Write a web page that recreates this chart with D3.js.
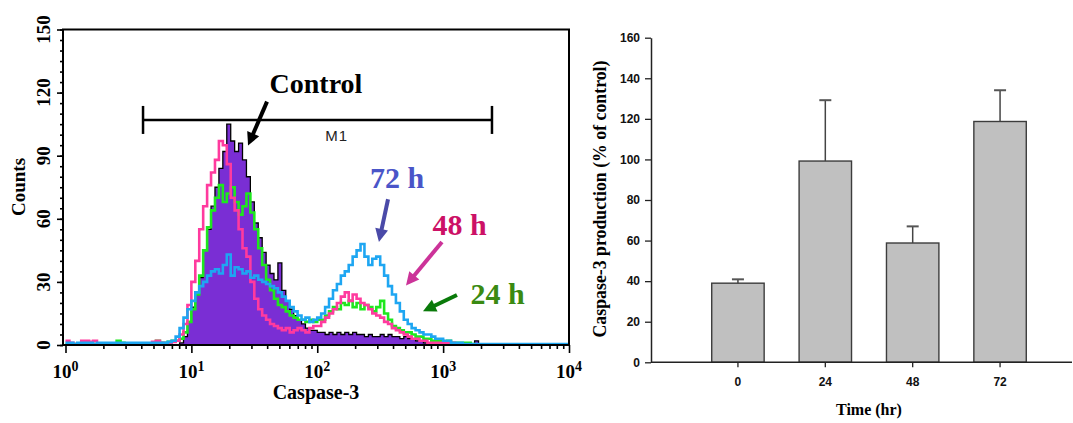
<!DOCTYPE html>
<html>
<head>
<meta charset="utf-8">
<script src="https://cdn.jsdelivr.net/npm/d3@7"></script>
<style>
  body { margin: 0; background: #fff; }
  svg { display: block; }
</style>
</head>
<body>
<svg id="chart" width="1073" height="423"></svg>
<script>
// ---------- Flow cytometry histograms: counts per channel, 32 channels per decade (10^0 .. 10^4) ----------
const channelsPerDecade = 32;

const controlCounts = [
  0,0,0,0,0,0,0,0,0,0,0,0,0,0,0,0,
  0,0,0,0,0,0,0,0,0,0,0,0,0,1,4,11,
  18,24,32,45,55,66,75,84,92,105,97,92,96,88,80,68,
  58,51,44,38,34,31,39,26,21,17,14,12,10,8,7,7,
  6,6,5,6,5,6,5,6,5,6,5,5,4,5,4,4,
  5,4,5,4,4,3,4,3,3,2,2,1,1,1,0.5,0,
  0,0,0,0,0,0,0,0,2,0,0,0,0,0,0,0,
  0,0,0,0,0,0,0,0,0,0,0,0,0,0,0,0
];

const counts24h = [
  0.5,0.5,0.5,0.5,0.5,0.5,0.5,0.5,0.5,0.5,0.5,0.5,0.5,2,1,0.5,
  0.5,0.5,0.5,0.5,0.5,0.5,0.5,2,1,1,1.5,2,2,3,6,11,
  17,24,33,45,56,64,70,76,68,72,75,68,62,66,72,63,
  55,46,38,31,26,22,19,18,16,14,13,12,12,11,12,11,
  12,12,14,16,18,17,20,19,21,18,20,17,19,18,16,18,
  21,15,12,9,8,7,6,6,5,4,4,3,3,2,2,2,
  1,2,1,1,1,1,1,0.5,0,0,0,0,0,0,0,0,
  0,0,0,0,0,0,0,0,0,0,0,0,0,0,0,0
];

const counts48h = [
  2,1,0.5,0.5,2,2,1.5,2,0.5,0.5,0.5,0.5,0.5,0.5,0.5,0.5,
  0.5,0.5,0.5,0.5,0.5,0.5,1.5,2,1,0.5,1,1.5,2,5,10,19,
  30,40,55,66,76,82,88,97,95,86,70,64,55,46,42,30,
  22,17,14,12,10,9,8,7,8,6,7,8,7,6,8,9,
  9,11,13,15,17,20,23,25,21,24,22,20,19,17,15,14,
  13,11,10,8,7,6,5,4,3,3,2,2,1,1,1,1,
  1,1,1,0.5,0,0,0,0,0,0,0,0,0,0,0,0,
  0,0,0,0,0,0,0,0,0,0,0,0,0,0,0,0
];

const counts72h = [
  1,1,0.5,1,1,1,1,0.5,1,1,1,1,1,1,1,1,
  1,1,1,1,1,1,1,1,1,1,1.5,2,4,8,13,17,
  21,25,28,30,33,35,36,34,38,43,33,37,36,34,35,32,
  33,31,30,29,28,27,25,23,21,18,16,14,12,13,11,12,
  13,15,18,22,26,29,33,35,38,42,45,48,42,38,41,42,
  38,33,28,24,20,16,12,10,8,7,6,5,5,4,3,3,
  2,2,1,1,1,0.5,0.5,0.5,0.5,0.5,0.5,0.5,0.5,0.5,0.5,0.5,
  0.5,0.5,0.5,0.5,0.5,0.5,0.5,0.5,0.5,0.5,0.5,0.5,0.5,0.5,0.5,0.5
];

const countTicks = [0, 30, 60, 90, 120, 150];
const decadeTicks = [1, 10, 100, 1000, 10000];

// Gate marker and annotations in data units (fluorescence, counts)
const gateM1 = { from: 4.13, to: 2444, count: 107, label: "M1" };
const annotations = [
  { text: "Control", x: 97.7, y: 120,  color: "#000000", size: 28, arrowColor: "#000000", from: [39.9, 115.7], to: [28.2, 94.8] },
  { text: "72 h",    x: 430,  y: 74.8, color: "#4a55c8", size: 30, arrowColor: "#4a4aa8", from: [365, 69.3],  to: [309, 49.0] },
  { text: "48 h",    x: 1349, y: 52.4, color: "#cc1166", size: 30, arrowColor: "#cc3399", from: [979, 49.0],  to: [507, 28.3] },
  { text: "24 h",    x: 2704, y: 19.5, color: "#3a8a12", size: 30, arrowColor: "#0a7a0a", from: [1288, 23.8], to: [692, 16.0] }
];

// ---------- Caspase-3 production bar chart ----------
const times = ["0", "24", "48", "72"];
const production = [39.0, 99.2, 58.8, 118.7];
const productionSE = [1.9, 30.0, 8.2, 15.4];
const percentTicks = [0, 20, 40, 60, 80, 100, 120, 140, 160];

const SERIF = "'Liberation Serif','Times New Roman',serif";
const SANS = "'Liberation Sans',Arial,sans-serif";

const svg = d3.select("#chart");

/* ===================== Left panel: histogram overlay ===================== */
const frame = { left: 63, right: 569, top: 29.5, bottom: 345 };
const hx = d3.scaleLog().domain([1, 1e4]).range([65.5, 569]);
const hy = d3.scaleLinear().domain([0, 150]).range([345, 29.5]);

svg.append("clipPath").attr("id", "histClip")
  .append("rect")
  .attr("x", frame.left).attr("y", frame.top - 2)
  .attr("width", frame.right - frame.left).attr("height", frame.bottom - frame.top + 2);

const toSteps = arr => {
  const pts = arr.map((v, i) => [Math.pow(10, i / channelsPerDecade), v]);
  pts.push([1e4, arr[arr.length - 1]]);
  return pts;
};

const stepLine = d3.line().x(d => hx(d[0])).y(d => hy(d[1])).curve(d3.curveStepAfter);
const stepArea = d3.area().x(d => hx(d[0])).y0(hy(0)).y1(d => hy(d[1])).curve(d3.curveStepAfter);

const plot = svg.append("g").attr("clip-path", "url(#histClip)");

// Control: filled histogram with dark outline
plot.append("path").attr("d", stepArea(toSteps(controlCounts)))
  .attr("fill", "#7a2ed4");
plot.append("path").attr("d", stepLine(toSteps(controlCounts)))
  .attr("fill", "none").attr("stroke", "#000").attr("stroke-width", 1.3);

// Treated samples: open step outlines
[
  { data: counts24h, color: "#1ee81e" },
  { data: counts48h, color: "#ff3a9e" },
  { data: counts72h, color: "#1ea6f2" }
].forEach(s => {
  plot.append("path").attr("d", stepLine(toSteps(s.data)))
    .attr("fill", "none").attr("stroke", s.color)
    .attr("stroke-width", 2.6).attr("stroke-linejoin", "miter");
});

// Frame
svg.append("rect")
  .attr("x", frame.left).attr("y", frame.top)
  .attr("width", frame.right - frame.left).attr("height", frame.bottom - frame.top)
  .attr("fill", "none").attr("stroke", "#000").attr("stroke-width", 2);

// Y axis: major and minor ticks
const yMinor = d3.range(0, 151, 5);
const yAxisMinor = svg.append("g").attr("transform", `translate(${frame.left},0)`)
  .call(d3.axisLeft(hy).tickValues(yMinor).tickSize(3).tickFormat(""));
const yAxisMajor = svg.append("g").attr("transform", `translate(${frame.left},0)`)
  .call(d3.axisLeft(hy).tickValues(countTicks).tickSize(6).tickFormat(""));
[yAxisMinor, yAxisMajor].forEach(g => {
  g.select(".domain").remove();
  g.selectAll(".tick line").attr("stroke", "#000").attr("stroke-width", 1.6);
});

svg.append("g").selectAll("text").data(countTicks).join("text")
  .attr("transform", d => `translate(50,${hy(d)}) rotate(-90)`)
  .attr("text-anchor", "middle")
  .attr("font-family", SERIF).attr("font-weight", "bold").attr("font-size", 19)
  .attr("fill", "#000")
  .text(d => d);

svg.append("text")
  .attr("transform", "translate(25,187) rotate(-90)")
  .attr("text-anchor", "middle")
  .attr("font-family", SERIF).attr("font-weight", "bold").attr("font-size", 19)
  .text("Counts");

// X axis: logarithmic decades with minor ticks
const xMinor = [];
decadeTicks.slice(0, -1).forEach(d => { for (let k = 2; k <= 9; k++) xMinor.push(d * k); });
const xAxisMinor = svg.append("g").attr("transform", `translate(0,${frame.bottom})`)
  .call(d3.axisBottom(hx).tickValues(xMinor).tickSize(4).tickFormat(""));
const xAxisMajor = svg.append("g").attr("transform", `translate(0,${frame.bottom})`)
  .call(d3.axisBottom(hx).tickValues(decadeTicks).tickSize(8).tickFormat(""));
[xAxisMinor, xAxisMajor].forEach(g => {
  g.select(".domain").remove();
  g.selectAll(".tick line").attr("stroke", "#000").attr("stroke-width", 1.6);
});

const xLabels = svg.append("g").selectAll("text").data(decadeTicks).join("text")
  .attr("x", d => hx(d)).attr("y", 378)
  .attr("text-anchor", "middle")
  .attr("font-family", SERIF).attr("font-weight", "bold").attr("font-size", 19)
  .attr("fill", "#000");
xLabels.append("tspan").text("10");
xLabels.append("tspan").attr("dy", "-0.5em").attr("font-size", 14)
  .text(d => Math.round(Math.log10(d)));

svg.append("text")
  .attr("x", (frame.left + frame.right) / 2).attr("y", 399)
  .attr("text-anchor", "middle")
  .attr("font-family", SERIF).attr("font-weight", "bold").attr("font-size", 20)
  .text("Caspase-3");

// M1 gate marker
const gy = hy(gateM1.count);
const gate = svg.append("g").attr("stroke", "#000").attr("stroke-width", 2.5);
gate.append("line").attr("x1", hx(gateM1.from)).attr("x2", hx(gateM1.to)).attr("y1", gy).attr("y2", gy);
gate.append("line").attr("x1", hx(gateM1.from)).attr("x2", hx(gateM1.from)).attr("y1", gy - 14).attr("y2", gy + 14);
gate.append("line").attr("x1", hx(gateM1.to)).attr("x2", hx(gateM1.to)).attr("y1", gy - 14).attr("y2", gy + 14);
svg.append("text")
  .attr("x", hx(gateM1.from) + (hx(gateM1.to) - hx(gateM1.from)) * 0.555)
  .attr("y", gy + 21)
  .attr("text-anchor", "middle")
  .attr("font-family", SANS).attr("font-size", 15).attr("letter-spacing", 1)
  .attr("fill", "#222")
  .text(gateM1.label);

// Annotation labels and arrows
function arrow(g, p0, p1, color, width, headLen, headHalf) {
  const dx = p1[0] - p0[0], dy = p1[1] - p0[1];
  const len = Math.hypot(dx, dy);
  const ux = dx / len, uy = dy / len;
  const bx = p1[0] - ux * headLen, by = p1[1] - uy * headLen;
  g.append("line")
    .attr("x1", p0[0]).attr("y1", p0[1]).attr("x2", bx + ux * 2).attr("y2", by + uy * 2)
    .attr("stroke", color).attr("stroke-width", width);
  g.append("polygon")
    .attr("points", [
      [p1[0], p1[1]],
      [bx - uy * headHalf, by + ux * headHalf],
      [bx + uy * headHalf, by - ux * headHalf]
    ].map(p => p.join(",")).join(" "))
    .attr("fill", color);
}

const ann = svg.append("g");
annotations.forEach(a => {
  ann.append("text")
    .attr("x", hx(a.x)).attr("y", hy(a.y))
    .attr("text-anchor", "middle")
    .attr("font-family", SERIF).attr("font-weight", "bold").attr("font-size", a.size)
    .attr("fill", a.color)
    .text(a.text);
  arrow(ann,
    [hx(a.from[0]), hy(a.from[1])],
    [hx(a.to[0]), hy(a.to[1])],
    a.arrowColor, 4, 13, 6.5);
});

/* ===================== Right panel: bar chart ===================== */
const bx = d3.scaleBand().domain(times).range([694.25, 1043.75]).paddingInner(0.4).paddingOuter(0.2);
const by = d3.scaleLinear().domain([0, 160]).range([362.3, 37.7]);
const axisRight = 1072;

// Bars
svg.append("g").selectAll("rect").data(times).join("rect")
  .attr("x", d => bx(d)).attr("width", bx.bandwidth())
  .attr("y", (d, i) => by(production[i]))
  .attr("height", (d, i) => by(0) - by(production[i]))
  .attr("fill", "#c0c0c0").attr("stroke", "#3c3c3c").attr("stroke-width", 1.4);

// Error bars (upper)
const err = svg.append("g");
times.forEach((t, i) => {
  const cx = bx(t) + bx.bandwidth() / 2;
  err.append("line").attr("x1", cx).attr("x2", cx)
    .attr("y1", by(production[i])).attr("y2", by(production[i] + productionSE[i]))
    .attr("stroke", "#444").attr("stroke-width", 1.5);
  err.append("line").attr("x1", cx - 6).attr("x2", cx + 6)
    .attr("y1", by(production[i] + productionSE[i])).attr("y2", by(production[i] + productionSE[i]))
    .attr("stroke", "#555").attr("stroke-width", 2);
});

// Y axis
const barY = svg.append("g").attr("transform", "translate(651,0)")
  .call(d3.axisLeft(by).tickValues(percentTicks).tickSize(6).tickSizeOuter(0).tickPadding(5));
barY.select(".domain").attr("stroke", "#222").attr("stroke-width", 1.5);
barY.selectAll(".tick line").attr("stroke", "#222").attr("stroke-width", 1.3);
barY.selectAll(".tick text")
  .attr("font-family", SANS).attr("font-weight", "bold").attr("font-size", 12).attr("fill", "#111");

// X axis
const barX = svg.append("g").attr("transform", `translate(0,${by(0)})`)
  .call(d3.axisBottom(bx).tickSize(5).tickSizeOuter(0).tickPadding(10));
barX.select(".domain").attr("d", `M651,0H${axisRight}`).attr("stroke", "#222").attr("stroke-width", 1.5);
barX.selectAll(".tick line").attr("stroke", "#222").attr("stroke-width", 1.3);
barX.selectAll(".tick text")
  .attr("font-family", SANS).attr("font-weight", "bold").attr("font-size", 12).attr("fill", "#111");

svg.append("text")
  .attr("x", 869).attr("y", 415)
  .attr("text-anchor", "middle")
  .attr("font-family", SERIF).attr("font-weight", "bold").attr("font-size", 16)
  .text("Time (hr)");

svg.append("text")
  .attr("transform", "translate(606,199) rotate(-90)")
  .attr("text-anchor", "middle")
  .attr("font-family", SERIF).attr("font-weight", "bold").attr("font-size", 17.8)
  .text("Caspase-3 production (% of control)");
</script>
</body>
</html>
